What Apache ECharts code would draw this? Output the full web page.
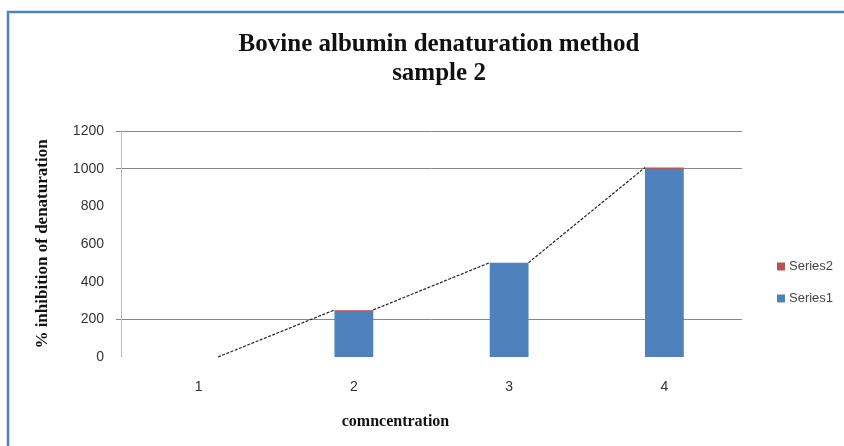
<!DOCTYPE html>
<html>
<head>
<meta charset="utf-8">
<script src="https://cdn.jsdelivr.net/npm/echarts@6/dist/echarts.min.js"></script>
<style>
  html, body { margin: 0; padding: 0; background: #fff; }
  #chart { width: 844px; height: 446px; }
</style>
</head>
<body>
<div id="chart"></div>
<script>
// Concentration steps on the x axis
const categories = ['1', '2', '3', '4'];
// Stacked bar values
const series1 = [0, 245, 500, 1000];
const series2 = [0, 5, 1, 6];
// Values that carry a horizontal gridline and tick
const gridValues = [200, 1000, 1200];

const totals = categories.map((_, i) => series1[i] + series2[i]);
// Series-line segments: [fromIndex, fromTotal, toTotal]
const connectors = totals.slice(0, -1).map((t, i) => [i, t, totals[i + 1]]);

const Y_MAX = 1200, Y_STEP = 200;
const BAR_RATIO = 0.25;
const serif = '"Liberation Serif", "DejaVu Serif", serif';
const sans = '"Liberation Sans", Arial, sans-serif';

const chart = echarts.init(document.getElementById('chart'), null, { renderer: 'canvas' });

chart.setOption({
  animation: false,
  backgroundColor: '#fff',
  graphic: [{
    type: 'rect',
    shape: { x: 8, y: 12, width: 900, height: 500 },
    style: { fill: 'none', stroke: '#4F81BD', lineWidth: 2.5 },
    silent: true
  }],
  title: {
    text: 'Bovine albumin denaturation method\nsample 2',
    left: 434,
    top: 25,
    textAlign: 'center',
    textStyle: {
      fontFamily: serif,
      fontWeight: 'bold',
      fontSize: 25,
      lineHeight: 29,
      color: '#111'
    }
  },
  legend: {
    orient: 'vertical',
    left: 772,
    top: 255,
    itemWidth: 8,
    itemHeight: 8,
    itemGap: 19,
    icon: 'rect',
    data: ['Series2', 'Series1'],
    textStyle: { fontFamily: sans, fontSize: 13, color: '#444', padding: [0, 0, 0, -1] }
  },
  grid: {
    left: 121,
    right: 102,
    top: 131,
    bottom: 89,
    containLabel: false
  },
  xAxis: {
    type: 'category',
    data: categories,
    name: 'comncentration',
    nameLocation: 'middle',
    nameGap: 57,
    nameTextStyle: {
      fontFamily: serif,
      fontWeight: 'bold',
      fontSize: 16,
      color: '#111',
      padding: [0, 72, 0, 0]
    },
    axisLine: { show: false },
    axisTick: { show: false },
    axisLabel: { fontFamily: sans, fontSize: 14, color: '#333', margin: 23 },
    splitLine: { show: false }
  },
  yAxis: {
    type: 'value',
    min: 0,
    max: Y_MAX,
    interval: Y_STEP,
    name: '% inhibition of denaturation',
    nameLocation: 'middle',
    nameGap: 70,
    nameRotate: 90,
    nameTextStyle: {
      fontFamily: serif,
      fontWeight: 'bold',
      fontSize: 17,
      color: '#111'
    },
    axisLine: { show: true, lineStyle: { color: '#bbb', width: 1 } },
    // ticks (and the split lines that follow them) only at the listed values
    axisTick: { show: true, customValues: gridValues, length: 5, lineStyle: { color: '#888' } },
    axisLabel: {
      fontFamily: sans,
      fontSize: 14,
      color: '#333',
      margin: 17,
      formatter: v => String(v)
    },
    splitLine: { show: true, lineStyle: { color: '#888', width: 1 } }
  },
  series: [
    {
      name: 'Series1',
      type: 'bar',
      stack: 'total',
      data: series1,
      barWidth: (BAR_RATIO * 100) + '%',
      itemStyle: { color: '#4F81BD' },
      z: 3
    },
    {
      name: 'Series2',
      type: 'bar',
      stack: 'total',
      data: series2,
      barWidth: (BAR_RATIO * 100) + '%',
      itemStyle: { color: '#C0504D' },
      z: 3
    },
    {
      name: 'connectors',
      type: 'custom',
      data: connectors,
      z: 4,
      silent: true,
      renderItem: function (params, api) {
        const i = api.value(0);
        const p1 = api.coord([i, api.value(1)]);
        const p2 = api.coord([i + 1, api.value(2)]);
        const half = api.size([1, 0])[0] * BAR_RATIO / 2;
        return {
          type: 'line',
          shape: { x1: p1[0] + half, y1: p1[1], x2: p2[0] - half, y2: p2[1] },
          style: { stroke: '#222', lineWidth: 1.2, lineDash: [3, 1.5] }
        };
      }
    }
  ]
});
</script>
</body>
</html>
